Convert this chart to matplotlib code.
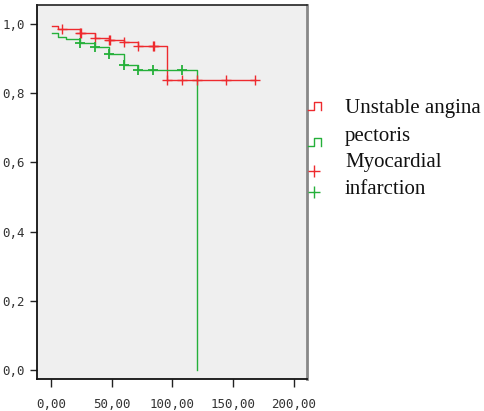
import numpy as np
import matplotlib
matplotlib.use('Agg')
import matplotlib.pyplot as plt
from matplotlib.lines import Line2D

# Kaplan-Meier step data (time, cumulative survival)
ua_time = [1, 6, 24, 36, 48, 60, 72, 96, 168]
ua_surv = [0.995, 0.986, 0.973, 0.961, 0.955, 0.948, 0.937, 0.837, 0.837]
ua_censor = [9, 24, 25, 36, 48, 49, 60, 72, 84, 85, 96, 108, 120, 144, 168]

mi_time = [1, 6, 12, 24, 36, 48, 60, 72, 120]
mi_surv = [0.975, 0.962, 0.956, 0.944, 0.934, 0.913, 0.882, 0.867, 0.0]
mi_censor = [24, 36, 48, 60, 72, 84, 108]

legend_labels = ['Unstable angina', 'pectoris', 'Myocardial', 'infarction']
x_ticks = [0, 50, 100, 150, 200]
y_ticks = [0.0, 0.2, 0.4, 0.6, 0.8, 1.0]

RED = '#ee2a2e'
GREEN = '#25b03a'


def surv_at(times, surv, t):
    """Survival value of a post-step curve at time t"""
    i = max(np.searchsorted(times, t, side='right') - 1, 0)
    if surv[i] == 0 and t < times[-1]:
        i -= 1
    return surv[i]


fig = plt.figure(figsize=(4.85, 4.11), dpi=100)
ax = fig.add_axes([37 / 485, 1 - 379 / 411, 270 / 485, 374 / 411])
ax.set_facecolor('#efefef')

ax.step(ua_time, ua_surv, where='post', color=RED, linewidth=1)
ax.step(mi_time, mi_surv, where='post', color=GREEN, linewidth=1)

ua_cy = [surv_at(ua_time, ua_surv, t) for t in ua_censor]
mi_cy = [surv_at(mi_time, mi_surv, t) for t in mi_censor]
ax.plot(ua_censor, ua_cy, linestyle='none', marker='+', color=RED, markersize=7, markeredgewidth=1)
ax.plot(mi_censor, mi_cy, linestyle='none', marker='+', color=GREEN, markersize=7, markeredgewidth=1.3)

ax.set_xlim(-11.5, 211)
ax.set_ylim(-0.026, 1.055)
ax.set_xticks(x_ticks)
ax.set_xticklabels([f"{v:.2f}".replace('.', ',') for v in x_ticks])
ax.set_yticks(y_ticks)
ax.set_yticklabels([f"{v:.1f}".replace('.', ',') for v in y_ticks])
ax.tick_params(direction='out', length=5, width=1, color='#222222', labelsize=9,
               labelcolor='#333333')
ax.tick_params(axis='x', length=6, pad=8)
for lab in ax.get_xticklabels() + ax.get_yticklabels():
    lab.set_family('DejaVu Sans Mono')

ax.spines['left'].set_color('#111111')
ax.spines['bottom'].set_color('#111111')
ax.spines['top'].set_color('#222222')
ax.spines['right'].set_color('#888888')
ax.spines['left'].set_linewidth(1.3)
ax.spines['bottom'].set_linewidth(1.3)
ax.spines['top'].set_linewidth(1.2)
ax.spines['right'].set_linewidth(2)

# legend (SPSS style: icons next to the axes, wrapped labels)
W, H = 485, 411


def fx(px):
    return px / W


def fy(py):
    return 1 - py / H


for ytop, ybot, col in [(101.7, 110, RED), (137.7, 146, GREEN)]:
    xs = [308, 314, 314, 321, 321]
    ys = [ybot, ybot, ytop, ytop, ybot]
    fig.add_artist(Line2D([fx(x) for x in xs], [fy(y) for y in ys], color=col, linewidth=1,
                          transform=fig.transFigure))
for yc, col in [(170.7, RED), (191.7, GREEN)]:
    fig.add_artist(Line2D([fx(314)], [fy(yc)], marker='+', markersize=9, markeredgewidth=1,
                          color=col, linestyle='none', transform=fig.transFigure))

for lab, yb in zip(legend_labels, [113.3, 140.5, 167.3, 194]):
    fig.text(fx(345), fy(yb), lab, fontsize=15, family='Liberation Serif', va='baseline',
             ha='left', color='#111111')

fig.savefig('out.png', dpi=100)
plt.close(fig)
